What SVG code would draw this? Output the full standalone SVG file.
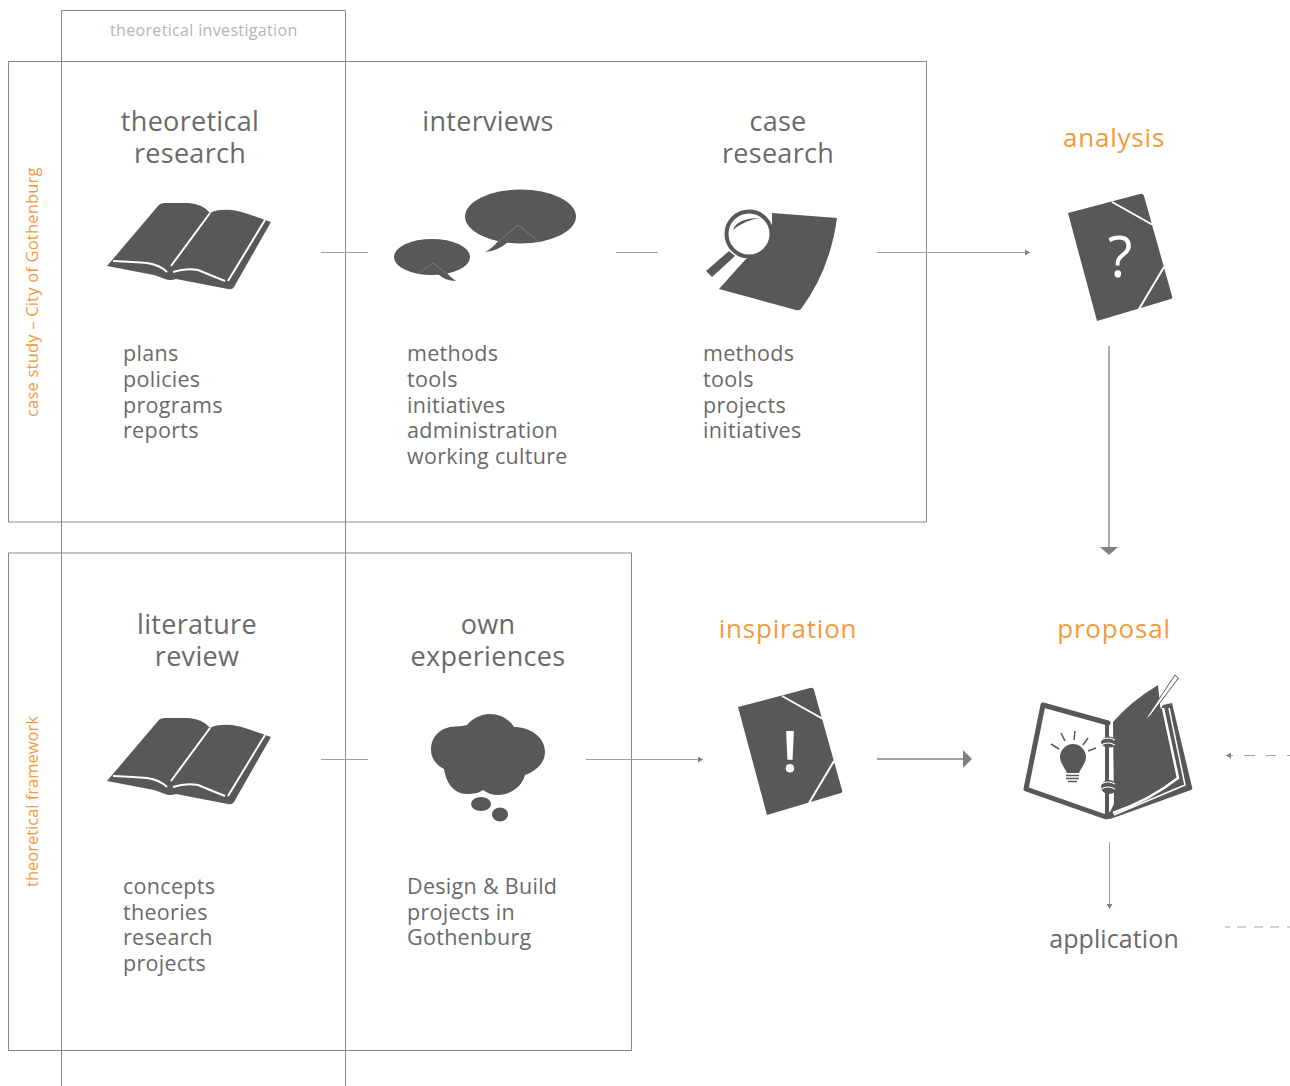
<svg xmlns="http://www.w3.org/2000/svg" xmlns:xlink="http://www.w3.org/1999/xlink" width="1290" height="1086" viewBox="0 0 1290 1086">
<style>
text{font-family:"Open Sans",sans-serif;fill:#6a6a69}
.h{font-size:27px;text-anchor:middle;letter-spacing:.3px}
.b{font-size:21.5px;letter-spacing:.3px}
.o{font-size:26px;text-anchor:middle;fill:#f39a3e;letter-spacing:.8px}
.s{font-size:16.500px;fill:#f39a3e}
.frame{fill:none;stroke:#8a8a8a;stroke-width:1}
.c{fill:none;stroke:#a3a3a3;stroke-width:1}
.d{fill:#595856}
.w{fill:none;stroke:#fff;stroke-width:2}
</style>
<defs>
<g id="book"><path class="d" d="M107 266L158 206Q160 203 165 203L188 203Q203 204 210 213Q217 209 232 210Q240 211 248 214L271 222L234 287Q232 290 228 289L176 279Q170 281 165 279Q160 277 154 275Z"/><path class="w" d="M210 213L171 266M265 220L228 281M113 261Q135 262 147 263Q160 265 167 272M173 272Q185 268 198 270Q210 275 225 281"/></g>
<g id="folder"><path class="d" d="M1068 213L1140 194Q1143 193 1144 196L1172 296Q1173 298 1171 299L1097 321Z"/><path class="w" d="M1112 202L1153 225M1164 267L1139 309"/></g>
<marker id="a" markerWidth="6" markerHeight="6" refX="5" refY="3" orient="auto"><path d="M0 0L5 3L0 6Z" fill="#808080"/></marker>
</defs>
<g id="frames">
<path class="frame" d="M61.500 1086V10.500H345.500V1086"/>
<rect class="frame" x="8.500" y="61.500" width="918" height="460.500"/>
<rect class="frame" x="8.500" y="553" width="623" height="497.500"/>
</g>
<g id="connectors">
<path class="c" d="M321 252.500H368M616 252.500H658M321 759.500H368"/>
<path class="c" d="M877 252.500H1030" marker-end="url(#a)"/>
<path class="c" d="M586 759.500H703" marker-end="url(#a)"/>
<path d="M1109 346V547" stroke="#808080" stroke-width="1.300"/><path d="M1100 547H1118L1109 555Z" fill="#808080"/>
<path d="M877 759H964" stroke="#808080" stroke-width="1.300"/><path d="M963 750V768L972 759Z" fill="#808080"/>
<path class="c" d="M1109.500 842V909" marker-end="url(#a)"/>
<path class="c" d="M1233 755.500H1226" marker-end="url(#a)"/>
<path class="c" d="M1244 755.500H1255M1266 755.500H1276M1287 755.500H1290"/>
<path class="c" d="M1225 927H1230M1237 927H1246M1254 927H1263M1270 927H1279M1287 927H1290"/>
</g>
<g id="label-top"><text x="110" y="36" font-size="16" style="fill:#b5b5b5;letter-spacing:.34px">theoretical investigation</text></g>
<g id="side-1"><text class="s" transform="translate(38 417) rotate(-90)" style="letter-spacing:.2px">case study – City of Gothenburg</text></g>
<g id="side-2"><text class="s" transform="translate(38 887) rotate(-90)">theoretical framework</text></g>
<g id="theoretical-research">
<text class="h"><tspan x="190" y="131">theoretical</tspan><tspan x="190" y="163">research</tspan></text>
<use xlink:href="#book" href="#book"/>
<text class="b"><tspan x="123" y="361">plans</tspan><tspan x="123" y="387">policies</tspan><tspan x="123" y="413">programs</tspan><tspan x="123" y="438">reports</tspan></text>
</g>
<g id="interviews">
<text class="h" x="488" y="131">interviews</text>
<ellipse class="d" cx="520.500" cy="216.500" rx="55.500" ry="27"/>
<path class="d" d="M498 241Q493 248 485 252Q498 251 508 242Z"/>
<ellipse class="d" cx="432" cy="257" rx="38" ry="18"/>
<path class="d" d="M438 274Q445 281 456 281Q450 277 446 272Z"/>
<path d="M498 242L518 225L538 241M419 273L433 263L446 273" fill="none" stroke="#8c8b89" stroke-width=".7"/>
<text class="b"><tspan x="407" y="361">methods</tspan><tspan x="407" y="387">tools</tspan><tspan x="407" y="413">initiatives</tspan><tspan x="407" y="438">administration</tspan><tspan x="407" y="464">working culture</tspan></text>
</g>
<g id="case-research">
<text class="h"><tspan x="778" y="131">case</tspan><tspan x="778" y="163">research</tspan></text>
<path class="d" d="M772 213L837 218Q830 270 801 309Q799 311 796 310L719 289L745 260L772 240Z"/>
<circle cx="749" cy="234" r="22.500" fill="#fff" stroke="#595856" stroke-width="4"/>
<path class="d" d="M733 230Q737 218 760 218Q745 220 733 230Z"/>
<path class="d" d="M706 271L729 251L735 256L712 277Z"/>
<text class="b"><tspan x="703" y="361">methods</tspan><tspan x="703" y="387">tools</tspan><tspan x="703" y="413">projects</tspan><tspan x="703" y="438">initiatives</tspan></text>
</g>
<g id="analysis">
<text class="o" x="1114" y="147">analysis</text>
<use xlink:href="#folder" href="#folder"/>
<text x="1120" y="277" font-size="57" text-anchor="middle" style="fill:#fff">?</text>
</g>
<g id="literature-review">
<text class="h"><tspan x="197" y="634">literature</tspan><tspan x="197" y="666">review</tspan></text>
<use xlink:href="#book" href="#book" y="515"/>
<text class="b"><tspan x="123" y="894">concepts</tspan><tspan x="123" y="920">theories</tspan><tspan x="123" y="945">research</tspan><tspan x="123" y="971">projects</tspan></text>
</g>
<g id="own-experiences">
<text class="h"><tspan x="488" y="634">own</tspan><tspan x="488" y="666">experiences</tspan></text>
<path class="d" d="M431 750C431 736 441 727 455 726.500C460 726 464 726 467 725C473 718 481 714 490 714C500 714 509 719 514 727C530 727 545 737 545 752C545 763 536 771 525 775C522 787 510 795 498 795C492 795 487 793 483 790C479 793 473 794 467 794C454 794 446 783 444 769C436 765 431 758 431 750Z"/>
<ellipse class="d" cx="481" cy="804" rx="10" ry="7"/><ellipse class="d" cx="500" cy="814.500" rx="8" ry="7"/>
<text class="b"><tspan x="407" y="894">Design &amp; Build</tspan><tspan x="407" y="920">projects in</tspan><tspan x="407" y="945">Gothenburg</tspan></text>
</g>
<g id="inspiration">
<text class="o" x="788" y="638">inspiration</text>
<use xlink:href="#folder" href="#folder" x="-330" y="494"/>
<text x="790" y="772" font-size="58" font-weight="600" text-anchor="middle" style="fill:#fff">!</text>
</g>
<g id="proposal">
<text class="o" x="1114" y="638">proposal</text>
<path d="M1043 705L1108 723M1043 705L1026 789L1106 817" fill="none" stroke="#595856" stroke-width="5" stroke-linejoin="round" stroke-linecap="round"/>
<path class="d" d="M1163 705L1172 703L1192 787Q1193 789 1191 790L1113 818Q1108 820 1104 818L1105 812L1110 812Z"/>
<path d="M1163 708L1178 778Q1150 800 1113 813" fill="none" stroke="#fff" stroke-width="2.500"/>
<path d="M1169 708L1185 785L1114 815" fill="none" stroke="#fff" stroke-width="1.500"/>
<path class="d" d="M1113 722Q1130 702 1158 685L1160 705L1174 775Q1150 795 1114 810Z"/>
<path d="M1145 720L1175 675L1178.500 678L1150 716Z" fill="#fff" stroke="#595856" stroke-width="1"/>
<path d="M1107 722V816" stroke="#595856" stroke-width="4"/>
<ellipse class="d" cx="1109" cy="742" rx="8" ry="5.500"/><ellipse class="d" cx="1109" cy="787" rx="8" ry="7"/>
<path d="M1101 740Q1108 736 1115 740M1101 745Q1108 741 1115 745M1101 784Q1108 780 1115 784M1101 789Q1108 785 1115 789" fill="none" stroke="#fff" stroke-width="1.200"/>
<path class="d" d="M1073 744C1080 744 1086 750 1086 757C1086 763 1081 768 1079 773H1067C1065 768 1060 763 1060 757C1060 750 1066 744 1073 744Z"/>
<path d="M1066 775.500H1079M1066 778.500H1079M1068 781.500H1077M1051 744L1059 749M1061 733L1065 741M1075 731L1074 740M1088 738L1083 745M1096 748L1088 751" stroke="#595856" stroke-width="1.500" fill="none"/>
</g>
<g id="application"><text class="h" x="1114" y="948" style="letter-spacing:.1px;font-size:25px">application</text></g>
</svg>
